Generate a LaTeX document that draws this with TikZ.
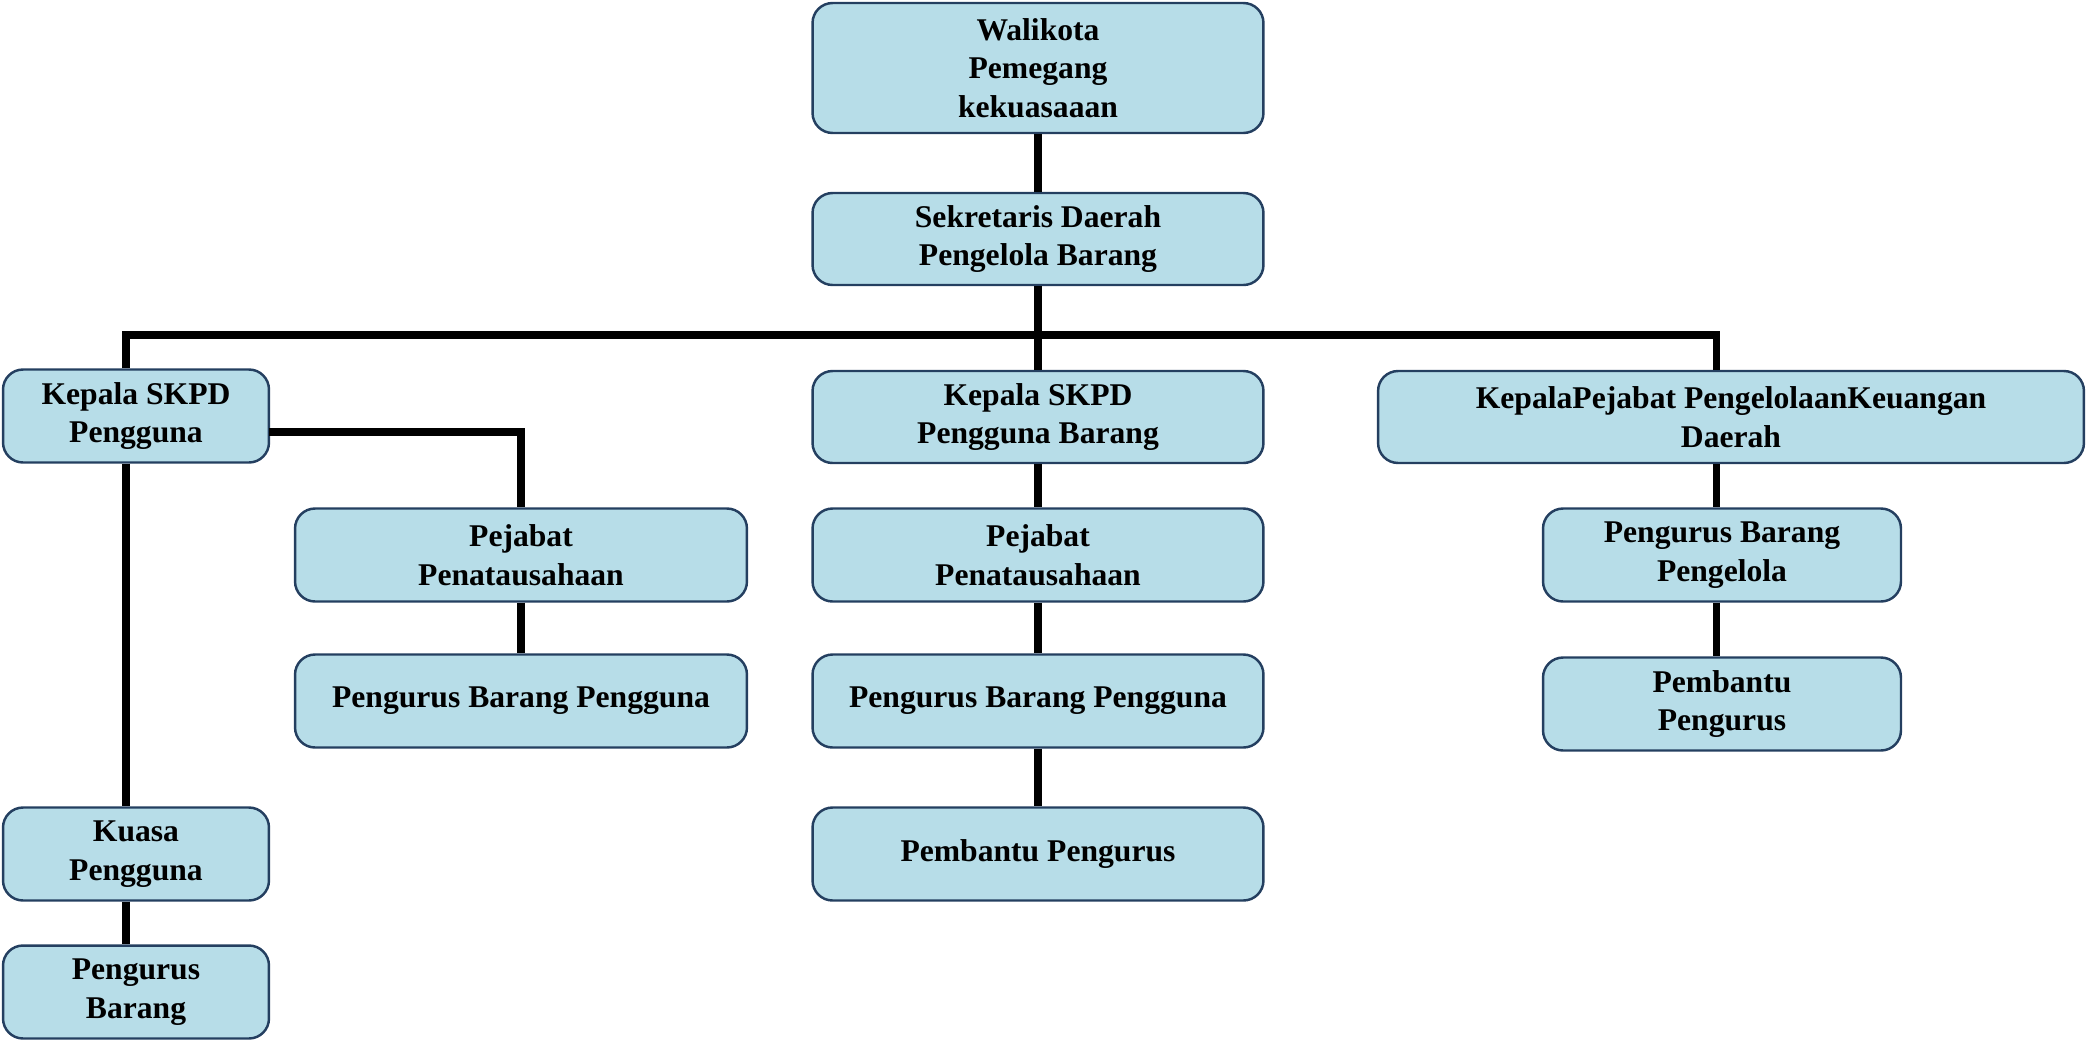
\documentclass[tikz,border=0pt]{standalone}
\usepackage{fontspec}
\setmainfont{Liberation Serif}
\definecolor{boxfill}{HTML}{B7DDE8}
\definecolor{boxline}{HTML}{243F60}
\tikzset{
  box/.style={draw=boxline, fill=boxfill, line width=1.4pt, rounded corners=0.4cm,
    align=center, inner sep=0pt, font=\fontsize{18}{22}\selectfont\bfseries},
  link/.style={line width=4pt, black}
}
\begin{document}
\begin{tikzpicture}[x=0.02cm,y=-0.02cm]
\useasboundingbox (0,0) rectangle (2086,1041);

\node[box, minimum width=9.02cm, minimum height=2.6cm] (wali) at (1038,68) {Walikota\\Pemegang\\kekuasaaan};
\node[box, minimum width=9.02cm, minimum height=1.84cm] (sekda) at (1038,239) {Sekretaris Daerah\\Pengelola Barang};

\node[box, minimum width=5.32cm, minimum height=1.86cm] (kskpdA) at (136,416) {Kepala SKPD\\Pengguna};
\node[box, minimum width=9.04cm, minimum height=1.86cm] (pejA) at (521,555) {Pejabat\\Penatausahaan};
\node[box, minimum width=9.04cm, minimum height=1.86cm] (pbpA) at (521,701) {Pengurus Barang Pengguna};
\node[box, minimum width=5.32cm, minimum height=1.86cm] (kuasa) at (136,854) {Kuasa\\Pengguna};
\node[box, minimum width=5.32cm, minimum height=1.86cm] (pbA) at (136,992) {Pengurus\\Barang};

\node[box, minimum width=9.02cm, minimum height=1.84cm] (kskpdB) at (1038,417) {Kepala SKPD\\Pengguna Barang};
\node[box, minimum width=9.02cm, minimum height=1.86cm] (pejB) at (1038,555) {Pejabat\\Penatausahaan};
\node[box, minimum width=9.02cm, minimum height=1.86cm] (pbpB) at (1038,701) {Pengurus Barang Pengguna};
\node[box, minimum width=9.02cm, minimum height=1.86cm] (pembB) at (1038,854) {Pembantu Pengurus};

\node[box, minimum width=14.12cm, minimum height=1.84cm] (kppkd) at (1731,417) {KepalaPejabat PengelolaanKeuangan\\Daerah};
\node[box, minimum width=7.16cm, minimum height=1.86cm] (pbpl) at (1722,555) {Pengurus Barang\\Pengelola};
\node[box, minimum width=7.16cm, minimum height=1.86cm] (pemC) at (1722,704) {Pembantu\\Pengurus};

\coordinate (busL) at (126,335);
\coordinate (busR) at (1716,335);
\coordinate (tapA) at (269,432);

\draw[link] (wali) -- (sekda);
\draw[link] (sekda) -- (kskpdB);
\draw[link] (busL |- kskpdA.north) -- (busL) -- (busR) -- (busR |- kppkd.north);
\draw[link] (tapA) -| (pejA.north);
\draw[link] (busL |- kskpdA.south) -- (busL |- kuasa.north);
\draw[link] (busL |- kuasa.south) -- (busL |- pbA.north);
\draw[link] (pejA) -- (pbpA);
\foreach \a/\b in {kskpdB/pejB, pejB/pbpB, pbpB/pembB}
{
   \draw[link] (\a) -- (\b);
}
\draw[link] (busR |- kppkd.south) -- (busR |- pbpl.north);
\draw[link] (busR |- pbpl.south) -- (busR |- pemC.north);
\end{tikzpicture}
\end{document}
